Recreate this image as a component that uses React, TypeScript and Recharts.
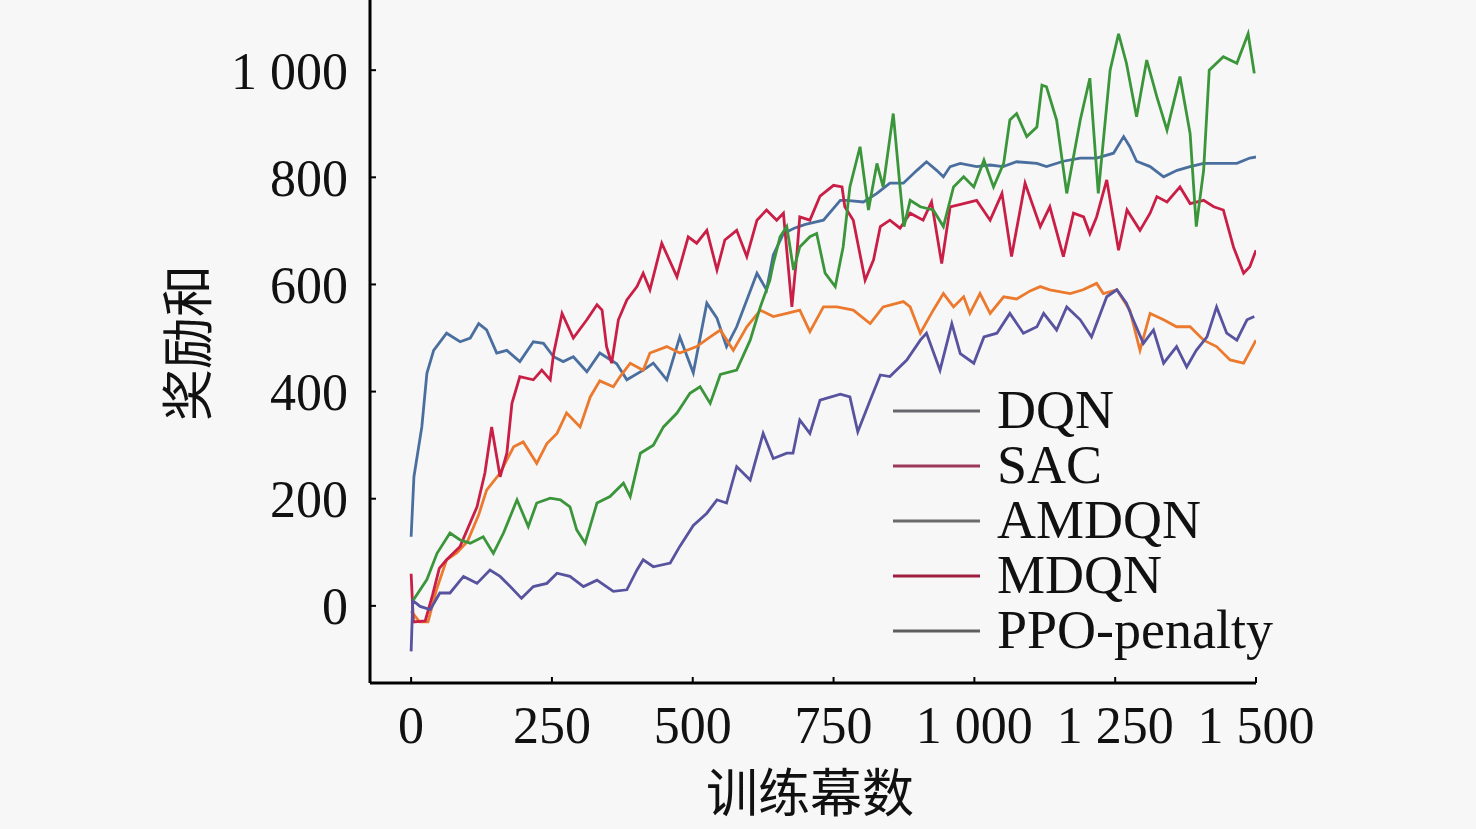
import React from 'react'
import { LineChart, Line, XAxis, YAxis } from 'recharts'

// Each curve at its own episodes (训练幕数)
const dqnEp = [
  0, 5, 19, 28, 40, 63, 87, 105, 120, 134, 152, 170, 193, 217, 235, 253, 270, 288, 312, 335,
  353, 365, 383, 412, 430, 454, 477, 501, 525, 543, 560, 578, 596, 614, 631, 643, 661, 680, 700, 732,
  762, 773, 803, 827, 850, 874, 898, 915, 933, 945, 957, 975, 1004, 1028, 1051, 1075, 1111, 1128, 1158, 1188,
  1217, 1247, 1265, 1276, 1288, 1312, 1336, 1360, 1383, 1407, 1430, 1466, 1489, 1500,
]
const dqnReward = [
  129, 241, 334, 434, 477, 509, 493, 500, 527, 515, 472, 477, 456, 493, 490, 465, 456, 465, 437, 472,
  460, 452, 422, 440, 453, 422, 502, 435, 565, 537, 484, 521, 571, 621, 590, 655, 695, 705, 712, 720,
  757, 757, 754, 770, 789, 789, 813, 829, 813, 801, 820, 826, 820, 823, 820, 829, 826, 820, 830, 836,
  836, 845, 876, 857, 830, 820, 801, 813, 820, 826, 826, 826, 836, 838,
]

const sacEp = [
  0, 15, 30, 45, 63, 81, 100, 120, 134, 158, 182, 199, 223, 241, 259, 276, 300, 318, 335, 359,
  371, 389, 412, 424, 454, 477, 507, 531, 549, 572, 596, 620, 643, 667, 690, 708, 732, 756, 785, 815,
  838, 874, 886, 904, 927, 945, 963, 981, 992, 1010, 1028, 1052, 1075, 1099, 1117, 1134, 1170, 1193, 1217, 1229,
  1253, 1276, 1294, 1312, 1336, 1359, 1383, 1407, 1430, 1454, 1478, 1500,
]
const sacReward = [
  -10, -30, -30, 30, 86, 99, 120, 170, 216, 248, 297, 306, 266, 303, 322, 360, 334, 390, 420, 409,
  428, 453, 440, 472, 484, 472, 484, 502, 515, 477, 521, 552, 540, 546, 552, 512, 558, 558, 552, 527,
  558, 568, 558, 509, 552, 583, 558, 577, 546, 583, 546, 577, 573, 588, 596, 590, 583, 590, 602, 583,
  590, 552, 477, 546, 534, 521, 521, 496, 484, 459, 453, 496,
]

const amdqnEp = [
  4, 28, 46, 69, 87, 105, 128, 146, 164, 188, 208, 223, 247, 265, 282, 294, 309, 330, 353, 377,
  389, 407, 430, 448, 472, 495, 513, 531, 549, 578, 602, 620, 637, 643, 655, 667, 679, 690, 708, 720,
  735, 753, 767, 779, 797, 812, 827, 838, 856, 868, 875, 886, 904, 927, 945, 963, 981, 999, 1017, 1034,
  1052, 1063, 1075, 1093, 1111, 1120, 1128, 1146, 1164, 1188, 1205, 1220, 1241, 1256, 1270, 1288, 1306, 1324, 1342, 1365,
  1383, 1394, 1407, 1417, 1442, 1466, 1486, 1497,
]
const amdqnReward = [
  11, 49, 98, 136, 123, 117, 129, 98, 136, 198, 148, 192, 201, 198, 185, 142, 117, 192, 204, 229,
  204, 285, 300, 334, 360, 397, 409, 378, 432, 440, 496, 558, 608, 639, 689, 708, 627, 670, 689, 695,
  621, 596, 670, 782, 857, 739, 826, 782, 919, 782, 708, 757, 745, 739, 708, 782, 801, 782, 832, 782,
  826, 907, 919, 876, 894, 972, 969, 907, 770, 907, 985, 770, 1000, 1068, 1013, 913, 1019, 950, 888, 988,
  882, 708, 813, 1000, 1025, 1013, 1068, 994,
]

const mdqnEp = [
  0, 4, 25, 38, 50, 63, 87, 117, 131, 143, 158, 170, 179, 193, 217, 232, 247, 253, 268, 288,
  312, 330, 339, 347, 356, 368, 383, 401, 412, 424, 445, 472, 492, 507, 525, 543, 557, 578, 596, 614,
  631, 649, 661, 676, 685, 690, 708, 726, 750, 765, 770, 785, 806, 821, 833, 850, 868, 886, 909, 924,
  942, 957, 981, 1004, 1028, 1049, 1066, 1090, 1117, 1134, 1158, 1176, 1194, 1205, 1217, 1235, 1256, 1271, 1294, 1312,
  1324, 1342, 1365, 1383, 1407, 1425, 1442, 1460, 1478, 1489, 1500,
]
const mdqnReward = [
  60, -30, -28, 20, 70, 86, 111, 185, 248, 334, 241, 285, 378, 428, 422, 440, 422, 471, 546, 500,
  534, 562, 552, 484, 453, 534, 571, 596, 621, 590, 677, 614, 689, 677, 701, 627, 683, 701, 652, 720,
  739, 720, 733, 558, 658, 726, 720, 765, 785, 782, 745, 720, 608, 646, 708, 720, 705, 733, 720, 754,
  639, 745, 751, 757, 720, 770, 652, 789, 708, 745, 652, 733, 726, 695, 726, 795, 664, 739, 701, 733,
  764, 754, 782, 751, 757, 745, 739, 670, 621, 633, 664,
]

const ppoEp = [
  0, 3, 16, 34, 51, 69, 93, 117, 140, 158, 176, 196, 217, 241, 259, 282, 306, 330, 359, 383,
  401, 412, 430, 460, 477, 501, 525, 543, 560, 578, 602, 625, 643, 667, 678, 690, 708, 726, 762, 779,
  793, 815, 833, 850, 880, 904, 915, 939, 960, 975, 999, 1017, 1040, 1063, 1087, 1111, 1123, 1146, 1164, 1188,
  1208, 1235, 1253, 1270, 1282, 1300, 1318, 1336, 1359, 1377, 1394, 1413, 1430, 1448, 1466, 1484, 1497,
]
const ppoReward = [
  -85, 10, -1, -7, 24, 24, 55, 42, 67, 55, 36, 14, 36, 42, 61, 55, 36, 48, 27, 30,
  67, 86, 73, 80, 111, 150, 173, 198, 192, 260, 235, 322, 275, 285, 285, 347, 322, 384, 395, 390,
  325, 384, 431, 428, 459, 496, 509, 440, 527, 471, 453, 502, 509, 546, 509, 521, 546, 515, 558, 534,
  502, 577, 590, 565, 534, 490, 515, 453, 484, 446, 477, 502, 558, 509, 496, 534, 540,
]

const yTicks = [0, 200, 400, 600, 800, 1000]
const xTicks = [0, 250, 500, 750, 1000, 1250, 1500]

const toPoints = (ep: number[], reward: number[]) => ep.map((x, i) => ({ x, y: reward[i] }))

// draw order: last one on top
const series = [
  { key: 'DQN', color: '#4a6f9f', legend: '#68686c', points: toPoints(dqnEp, dqnReward) },
  { key: 'SAC', color: '#eb7a2e', legend: '#9c3858', points: toPoints(sacEp, sacReward) },
  { key: 'MDQN', color: '#c91f46', legend: '#a01e3e', points: toPoints(mdqnEp, mdqnReward) },
  { key: 'PPO-penalty', color: '#58539f', legend: '#5e5e5e', points: toPoints(ppoEp, ppoReward) },
  { key: 'AMDQN', color: '#3b963b', legend: '#6a6a6a', points: toPoints(amdqnEp, amdqnReward) },
]
const legendOrder = ['DQN', 'SAC', 'AMDQN', 'MDQN', 'PPO-penalty']

const fmt = (v: number) => (v >= 1000 ? `${Math.floor(v / 1000)} ${String(v % 1000).padStart(3, '0')}` : String(v))

const serif = '"Liberation Serif", "DejaVu Serif", serif'
const cjk = '"Noto Sans CJK SC", sans-serif'

export default function App() {
  return (
    <div style={{ position: 'absolute', left: 0, top: 0, width: 1476, height: 829, background: '#f7f7f7', overflow: 'hidden' }}>
      <LineChart width={1476} height={829} margin={{ top: 0, right: 220, left: 290, bottom: 86 }}>
        <XAxis
          dataKey="x"
          type="number"
          domain={[-73, 1500]}
          allowDataOverflow
          allowDuplicatedCategory={false}
          ticks={xTicks}
          tickFormatter={fmt}
          height={60}
          tickSize={-6}
          tickMargin={29}
          axisLine={{ stroke: '#000', strokeWidth: 3 }}
          tickLine={{ stroke: '#000', strokeWidth: 2 }}
          tick={{ fill: '#111', fontSize: 52, fontFamily: serif }}
        />
        <YAxis
          type="number"
          domain={[-144, 1131]}
          allowDataOverflow
          ticks={yTicks}
          tickFormatter={fmt}
          width={80}
          tickSize={-6}
          tickMargin={28}
          axisLine={{ stroke: '#000', strokeWidth: 3 }}
          tickLine={{ stroke: '#000', strokeWidth: 2 }}
          tick={{ fill: '#111', fontSize: 52, fontFamily: serif }}
        />
        {series.map(s => (
          <Line
            key={s.key}
            data={s.points}
            type="linear"
            dataKey="y"
            name={s.key}
            stroke={s.color}
            strokeWidth={2.8}
            dot={false}
            activeDot={false}
            isAnimationActive={false}
          />
        ))}
      </LineChart>

      {/* 图例 */}
      <div style={{ position: 'absolute', left: 893, top: 383 }}>
        {legendOrder.map(k => {
          const s = series.find(x => x.key === k)!
          return (
            <div key={k} style={{ display: 'flex', alignItems: 'center', height: 55 }}>
              <svg width={87} height={55}>
                <line x1={0} x2={87} y1={28} y2={28} stroke={s.legend} strokeWidth={3} />
              </svg>
              <span style={{ marginLeft: 17, fontFamily: serif, fontSize: 54, lineHeight: '55px', color: '#111', whiteSpace: 'nowrap' }}>{k}</span>
            </div>
          )
        })}
      </div>

      {/* 坐标轴标题 */}
      <div style={{ position: 'absolute', left: 810, top: 790, transform: 'translate(-50%, -50%)', fontFamily: cjk, fontSize: 52, lineHeight: 1, color: '#111', whiteSpace: 'nowrap' }}>训练幕数</div>
      <div style={{ position: 'absolute', left: 185, top: 343, transform: 'translate(-50%, -50%) rotate(-90deg)', fontFamily: cjk, fontSize: 52, lineHeight: 1, color: '#111', whiteSpace: 'nowrap' }}>奖励和</div>
    </div>
  )
}
